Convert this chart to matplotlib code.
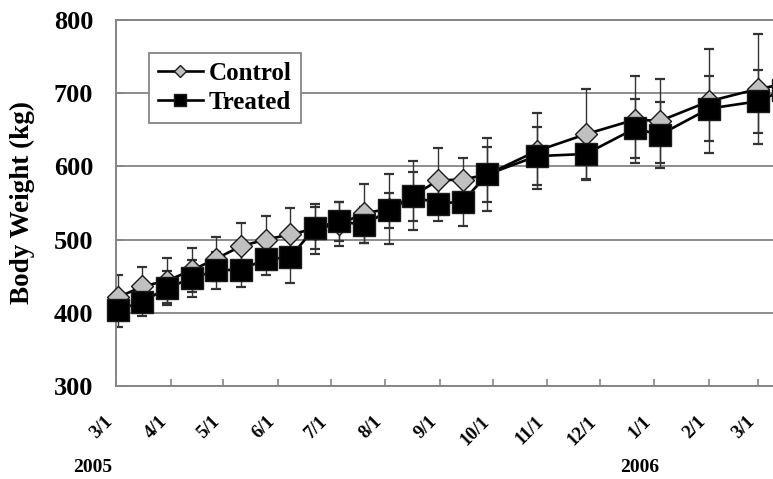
import numpy as np
import matplotlib
matplotlib.use("Agg")
import matplotlib.pyplot as plt
import matplotlib.dates as mdates
import matplotlib.transforms as mtransforms
import datetime as dt

plt.rcParams['font.family'] = ['Liberation Serif', 'DejaVu Serif']
plt.rcParams['font.weight'] = 'bold'

# sampling dates (every two weeks, gap in October/November)
dates = ["2005-03-02", "2005-03-16", "2005-03-30", "2005-04-13", "2005-04-27",
         "2005-05-11", "2005-05-25", "2005-06-08", "2005-06-22", "2005-07-06",
         "2005-07-20", "2005-08-03", "2005-08-17", "2005-08-31", "2005-09-14",
         "2005-09-28", "2005-10-26", "2005-11-23", "2005-12-21", "2006-01-04",
         "2006-02-01", "2006-03-01", "2006-03-15"]

control_mean = [421, 436, 444, 458, 474, 491, 500, 507, 515, 521, 536, 542,
                560, 581, 582, 589, 621, 644, 664, 662, 689, 706, 712]
control_sd = [30, 27, 31, 30, 30, 32, 32, 36, 34, 30, 40, 48,
              47, 44, 30, 50, 52, 62, 60, 58, 71, 75, 75]
treated_mean = [404, 415, 434, 447, 458, 459, 473, 476, 516, 525, 520, 540,
                559, 549, 552, 589, 614, 617, 652, 643, 679, 689, 704]
treated_sd = [24, 20, 23, 25, 25, 24, 21, 35, 29, 27, 24, 24,
              33, 24, 33, 38, 40, 34, 40, 45, 44, 43, 45]

month_ticks = ["2005-03-01", "2005-04-01", "2005-05-01", "2005-06-01", "2005-07-01",
               "2005-08-01", "2005-09-01", "2005-10-01", "2005-11-01", "2005-12-01",
               "2006-01-01", "2006-02-01", "2006-03-01"]
month_labels = ["3/1", "4/1", "5/1", "6/1", "7/1", "8/1", "9/1", "10/1",
                "11/1", "12/1", "1/1", "2/1", "3/1"]

x = [dt.datetime.strptime(d, "%Y-%m-%d") for d in dates]
xt = [dt.datetime.strptime(d, "%Y-%m-%d") for d in month_ticks]

W, H = 773, 479
fig = plt.figure(figsize=(W / 100, H / 100), dpi=100)

# axes runs past the right edge of the figure (cropped like the original)
x0 = dt.datetime(2005, 3, 1)
x1 = dt.datetime(2006, 3, 31)
px_per_day = 1.7598
left_px, top_px, bottom_px = 116, 20, 386
width_px = (x1 - x0).days * px_per_day
ax = fig.add_axes([left_px / W, 1 - bottom_px / H, width_px / W, (bottom_px - top_px) / H])

ax.set_xlim(x0, x1)
ax.set_ylim(300, 800)

grey = "#858585"
ax.set_yticks([300, 400, 500, 600, 700, 800])
ax.yaxis.grid(True, color=grey, linewidth=1.3)
ax.set_axisbelow(True)
for s in ["left", "bottom", "top"]:
    ax.spines[s].set_color(grey)
    ax.spines[s].set_linewidth(1.4)
ax.spines["right"].set_visible(False)

ax.errorbar(x, control_mean, yerr=control_sd, fmt="none", ecolor="#333333",
            elinewidth=1.0, capsize=3.5, capthick=1.6, zorder=2)
ax.errorbar(x, treated_mean, yerr=treated_sd, fmt="none", ecolor="#333333",
            elinewidth=1.0, capsize=3.5, capthick=1.6, zorder=2)
ax.plot(x, control_mean, color="black", linewidth=1.9, marker="D", markersize=11.5,
        markerfacecolor="#c0c0c0", markeredgecolor="#1a1a1a", markeredgewidth=1.0,
        label="Control", zorder=3, clip_on=False)
ax.plot(x, treated_mean, color="black", linewidth=1.9, marker="s", markersize=15.5,
        markerfacecolor="black", markeredgecolor="#1a1a1a", markeredgewidth=1.0,
        label="Treated", zorder=4, clip_on=False)

ax.set_xticks(xt)
ax.set_xticklabels(month_labels, rotation=45, ha="right", fontsize=13.5, fontweight="bold")
shift = mtransforms.ScaledTranslation(-5 / 100, 0, fig.dpi_scale_trans)
for lab in ax.get_xticklabels():
    lab.set_transform(lab.get_transform() + shift)
ax.tick_params(axis="x", direction="in", length=5, width=1.2, color=grey, pad=19.5)
ax.tick_params(axis="y", direction="in", length=6, width=1.2, color=grey, pad=16.5,
               labelsize=19)
for lab in ax.get_yticklabels():
    lab.set_fontweight("bold")

ax.set_ylabel("Body Weight (kg)", fontsize=19.5, fontweight="bold")
ax.yaxis.set_label_coords(-0.117, 0.5)

leg = ax.legend(loc="upper left", bbox_to_anchor=(149 / W, 1 - 53 / H),
                bbox_transform=fig.transFigure, borderaxespad=0, frameon=True,
                fancybox=False, framealpha=1, edgecolor=grey, markerscale=0.55,
                handlelength=1.8, handletextpad=0.25, borderpad=0.35,
                labelspacing=0.25, prop={"size": 18, "weight": "bold"})
leg.get_frame().set_linewidth(1.3)

fig.text(93 / W, 1 - 467 / H, "2005", ha="center", va="center", fontsize=14, fontweight="bold")
fig.text(640 / W, 1 - 467 / H, "2006", ha="center", va="center", fontsize=14, fontweight="bold")

fig.savefig("out.png", dpi=100)
